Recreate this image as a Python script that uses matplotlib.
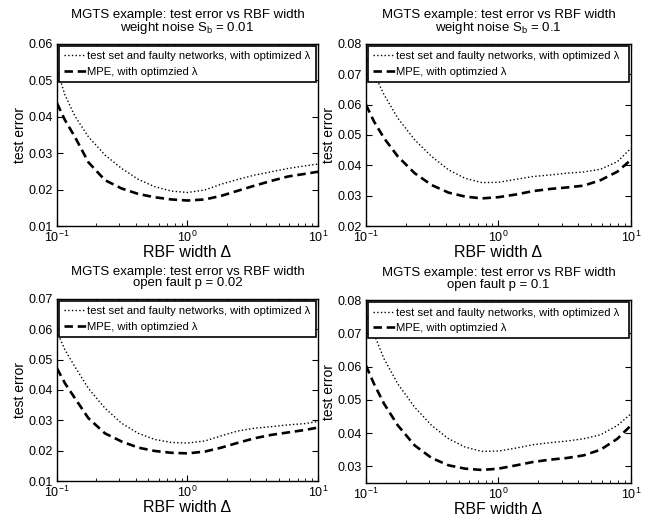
import numpy as np
import matplotlib
matplotlib.use("Agg")
import matplotlib.pyplot as plt

plt.rcParams['font.family'] = ['Liberation Sans', 'DejaVu Sans']
plt.rcParams['mathtext.fontset'] = 'custom'
plt.rcParams['mathtext.rm'] = 'Liberation Sans'

# RBF widths where the curves are read
width = [0.1, 0.115, 0.137, 0.174, 0.233, 0.313, 0.42, 0.56, 0.75, 1.0,
         1.36, 1.82, 2.44, 3.28, 4.4, 5.9, 7.9, 10.0]

# weight noise Sb = 0.01
tl_test = [0.0530, 0.0460, 0.0402, 0.0345, 0.0295, 0.0258, 0.0228, 0.0208, 0.0196, 0.0192,
           0.0199, 0.0215, 0.0228, 0.0240, 0.0249, 0.0258, 0.0265, 0.0270]
tl_mpe = [0.0437, 0.0391, 0.0345, 0.0275, 0.0226, 0.0203, 0.0188, 0.0179, 0.0173, 0.0170,
          0.0173, 0.0183, 0.0197, 0.0211, 0.0224, 0.0236, 0.0243, 0.0249]
# weight noise Sb = 0.1
tr_test = [0.0758, 0.0703, 0.0632, 0.0555, 0.0484, 0.0429, 0.0385, 0.0357, 0.0343, 0.0344,
           0.0354, 0.0363, 0.0368, 0.0374, 0.0378, 0.0387, 0.0412, 0.0456]
tr_mpe = [0.0599, 0.0544, 0.0489, 0.0429, 0.0374, 0.0335, 0.0310, 0.0297, 0.0291, 0.0295,
          0.0304, 0.0315, 0.0322, 0.0327, 0.0333, 0.0351, 0.0379, 0.0418]
# open fault p = 0.02
bl_test = [0.0592, 0.0532, 0.0477, 0.0405, 0.0340, 0.0290, 0.0257, 0.0237, 0.0227, 0.0225,
           0.0232, 0.0249, 0.0265, 0.0274, 0.0279, 0.0285, 0.0289, 0.0296]
bl_mpe = [0.0471, 0.0422, 0.0373, 0.0307, 0.0257, 0.0230, 0.0210, 0.0199, 0.0193, 0.0191,
          0.0197, 0.0210, 0.0226, 0.0241, 0.0252, 0.0260, 0.0268, 0.0276]
# open fault p = 0.1
br_test = [0.0758, 0.0698, 0.0623, 0.0548, 0.0478, 0.0423, 0.0383, 0.0358, 0.0345, 0.0346,
           0.0355, 0.0365, 0.0371, 0.0376, 0.0383, 0.0395, 0.0423, 0.0458]
br_mpe = [0.0603, 0.0548, 0.0488, 0.0423, 0.0363, 0.0325, 0.0303, 0.0293, 0.0289, 0.0293,
          0.0303, 0.0313, 0.0320, 0.0325, 0.0333, 0.0350, 0.0383, 0.0423]

subtitles = [r'weight noise S$_\mathrm{b}$ = 0.01', r'weight noise S$_\mathrm{b}$ = 0.1',
             'open fault p = 0.02', 'open fault p = 0.1']
ylims = [(0.01, 0.06), (0.02, 0.08), (0.01, 0.07), (0.025, 0.08)]
yticks = [np.arange(0.01, 0.061, 0.01), np.arange(0.02, 0.081, 0.01),
          np.arange(0.01, 0.071, 0.01), np.arange(0.03, 0.081, 0.01)]
tests = [tl_test, tr_test, bl_test, br_test]
mpes = [tl_mpe, tr_mpe, bl_mpe, br_mpe]

# axes boxes [left, bottom, width, height] in figure fractions
boxes = [[0.0865, 0.5645, 0.396, 0.351], [0.5554, 0.5645, 0.402, 0.351],
         [0.0865, 0.0732, 0.396, 0.351], [0.5554, 0.0695, 0.402, 0.352]]

fig = plt.figure(figsize=(6.59, 5.19), dpi=100)
for i in range(4):
    ax = fig.add_axes(boxes[i])
    ax.plot(width, tests[i], 'k:', linewidth=1.0,
            label='test set and faulty networks, with optimized λ')
    ax.plot(width, mpes[i], 'k--', linewidth=1.9, dashes=(3.2, 1.8),
            label='MPE, with optimzied λ')
    ax.set_xscale('log')
    ax.set_xlim(0.1, 10)
    ax.set_ylim(*ylims[i])
    ax.set_yticks(yticks[i])
    ax.set_yticklabels(['%.2f' % v for v in yticks[i]])
    ax.tick_params(which='both', direction='in', top=True, right=True, labelsize=9, pad=3)
    ax.tick_params(which='major', length=4)
    ax.tick_params(which='minor', length=2)
    ax.set_title('MGTS example: test error vs RBF width\n' + subtitles[i],
                 fontsize=9.5, linespacing=0.95, pad=9)
    ax.set_xlabel('RBF width Δ', fontsize=11.5, labelpad=0)
    ax.set_ylabel('test error', fontsize=10, labelpad=1)
    leg = ax.legend(loc='upper left', mode='expand', bbox_to_anchor=(0, 0, 1, 1),
                    borderaxespad=0.2, fontsize=8.1, fancybox=False,
                    handlelength=1.9, handletextpad=0.1, labelspacing=0.5,
                    borderpad=0.45, framealpha=1)
    leg.get_frame().set_edgecolor('black')
    leg.get_frame().set_linewidth(1.2)
    for sp in ax.spines.values():
        sp.set_linewidth(1.0)

fig.savefig('out.png', dpi=100)
